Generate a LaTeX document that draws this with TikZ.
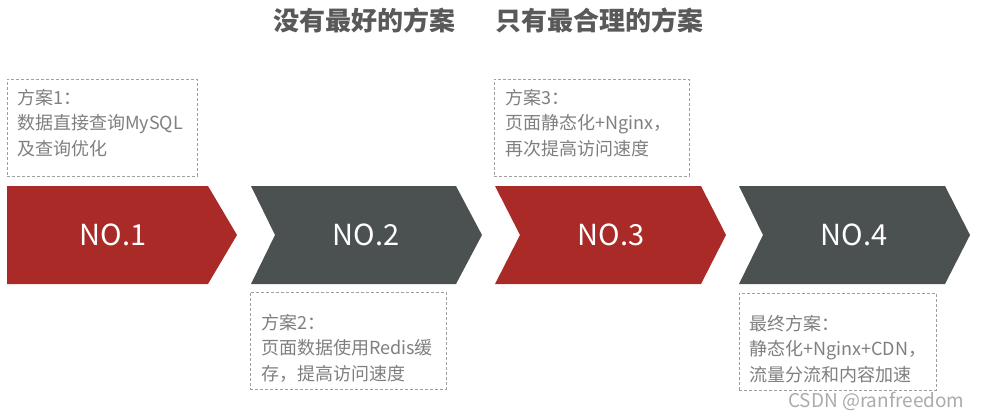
\documentclass[tikz,border=0pt]{standalone}
\usepackage{fontspec}
\setmainfont{Noto Sans CJK SC}
\usepackage{tikz}
\usetikzlibrary{positioning}
\definecolor{planred}{RGB}{169,42,39}
\definecolor{plangray}{RGB}{75,81,80}
\definecolor{notegray}{RGB}{127,127,127}
\definecolor{titlegray}{RGB}{89,89,89}

\begin{document}
\begin{tikzpicture}[x=1pt,y=-1pt,
                    title/.style={text=titlegray,font=\fontsize{26}{26}\selectfont\bfseries},
                    stage/.style={text=white,font=\fontsize{29}{29}\selectfont},
                    notebox/.style={draw=notegray!75,dashed,dash pattern=on 3pt off 2pt,
                                    minimum height=97pt,inner sep=0pt,anchor=north west},
                    notetext/.style={text=notegray,align=left,inner sep=0pt,
                                     font=\fontsize{18}{25.5}\selectfont}]
  \useasboundingbox (0,0) rectangle (982,418);

  \node[title] (best) at (364,20) {没有最好的方案};
  \node[title] (fit) at (599,20) {只有最合理的方案};

  % Stages
  \fill[planred] (7,186) -- (208,186) -- (237,235) -- (208,284) -- (7,284) -- cycle;
  \fill[plangray] (251,186) -- (456,186) -- (482,235) -- (456,284) -- (251,284) -- (275,235) -- cycle;
  \fill[planred] (495,186) -- (701,186) -- (726,235) -- (701,284) -- (495,284) -- (520,235) -- cycle;
  \fill[plangray] (739,186) -- (945,186) -- (970,235) -- (945,284) -- (739,284) -- (763,235) -- cycle;
  \node[stage] (no1) at (113,235) {NO.1};
  \node[stage] (no2) at (366,235) {NO.2};
  \node[stage] (no3) at (611,235) {NO.3};
  \node[stage] (no4) at (854,235) {NO.4};

  % Notes
  \node[notebox,minimum width=190pt] (box1) at (7,79) {};
  \node[notebox,minimum width=196pt] (box2) at (250,292) {};
  \node[notebox,minimum width=195pt] (box3) at (494,79) {};
  \node[notebox,minimum width=197pt] (box4) at (739,293) {};
  \node[notetext,below right=10pt and 10pt of box1.north west] (plan1)
    {方案1：\\数据直接查询MySQL\\及查询优化};
  \node[notetext,below right=22pt and 11pt of box2.north west] (plan2)
    {方案2：\\页面数据使用Redis缓\\存，提高访问速度};
  \node[notetext,below right=10pt and 11pt of box3.north west] (plan3)
    {方案3：\\页面静态化+Nginx，\\再次提高访问速度};
  \node[notetext,below right=22pt and 10pt of box4.north west] (plan4)
    {最终方案：\\静态化+Nginx+CDN，\\流量分流和内容加速};

  \node[text=black!33,font=\fontsize{19}{19}\selectfont,anchor=east] (credit) at (968,401) {CSDN @ranfreedom};
\end{tikzpicture}
\end{document}
